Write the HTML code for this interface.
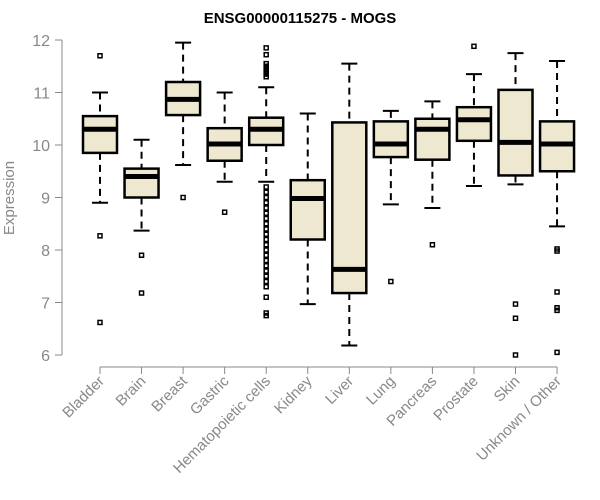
<!DOCTYPE html>
<html><head><meta charset="utf-8"><style>body{margin:0;background:#fff}svg{display:block}</style></head>
<body>
<svg id="chart" width="600" height="500" xmlns="http://www.w3.org/2000/svg" font-family="Liberation Sans, sans-serif"></svg>
<script>
const categories=["Bladder","Brain","Breast","Gastric","Hematopoietic cells","Kidney","Liver","Lung","Pancreas","Prostate","Skin","Unknown / Other"];
const whiskerLow=[8.9,8.37,9.62,9.3,9.3,6.97,6.18,8.87,8.8,9.22,9.25,8.45];
const q1=[9.85,9.0,10.57,9.7,10.0,8.2,7.18,9.77,9.72,10.08,9.42,9.5];
const median=[10.3,9.4,10.87,10.02,10.3,8.98,7.63,10.02,10.3,10.48,10.05,10.02];
const q3=[10.55,9.55,11.2,10.32,10.52,9.33,10.43,10.45,10.5,10.72,11.05,10.45];
const whiskerHigh=[11.0,10.1,11.95,11.0,11.1,10.6,11.55,10.65,10.83,11.35,11.75,11.6];
const outliers=[[11.7,8.27,6.62],[7.9,7.18],[9.0],[8.72],
[11.85,11.72,11.55,11.5,11.45,11.4,11.35,11.3,9.2,9.1,9.0,8.9,8.8,8.7,8.6,8.5,8.4,8.3,8.2,8.1,8.0,7.9,7.8,7.7,7.6,7.5,7.4,7.3,7.1,6.8,6.75],
[],[],[7.4],[8.1],[11.88],[6.97,6.7,6.0],[8.02,7.98,7.2,6.9,6.85,6.05]];
const yTicks=[6,7,8,9,10,11,12];
const NS="http://www.w3.org/2000/svg";
const svg=document.getElementById('chart');
const y=v=>355-(v-6)*52.5;
const x=i=>100+i*41.55;
function el(t,a,p){const e=document.createElementNS(NS,t);for(const k in a)e.setAttribute(k,a[k]);(p||svg).appendChild(e);return e;}
let t=el('text',{x:300,y:23,'text-anchor':'middle','font-weight':'bold','font-size':15,fill:'#000'});


t.textContent='ENSG00000115275 - MOGS';
let ax=el('g',{});


el('line',{x1:62,x2:62,y1:y(12),y2:y(6),stroke:'#888'},ax);
yTicks.forEach(v=>{el('line',{x1:55,x2:62,y1:y(v),y2:y(v),stroke:'#888'},ax);
let l=el('text',{x:50,y:y(v)+6,'text-anchor':'end','font-size':16,fill:'#888'},ax);


l.textContent=v;});
let yt=el('text',{x:0,y:0,transform:'translate(14,198) rotate(-90)','text-anchor':'middle','font-size':15,fill:'#888'});


yt.textContent='Expression';
let xa=el('g',{});


el('line',{x1:x(0),x2:x(categories.length-1),y1:367,y2:367,stroke:'#888'},xa);
categories.forEach((c,i)=>{
el('line',{x1:x(i),x2:x(i),y1:367,y2:374,stroke:'#888'},xa);
let l=el('text',{x:0,y:0,transform:`translate(${x(i)+5},382) rotate(-45)`,'text-anchor':'end','font-size':15,fill:'#888'},xa);


l.textContent=c;
let g=el('g',{});


const cx=x(i),w=17,cw=8;
el('line',{x1:cx,x2:cx,y1:y(whiskerHigh[i]),y2:y(q3[i]),stroke:'#000','stroke-width':2,'stroke-dasharray':'7,5'},g);
el('line',{x1:cx,x2:cx,y1:y(q1[i]),y2:y(whiskerLow[i]),stroke:'#000','stroke-width':2,'stroke-dasharray':'7,5'},g);
el('line',{x1:cx-cw,x2:cx+cw,y1:y(whiskerHigh[i]),y2:y(whiskerHigh[i]),stroke:'#000','stroke-width':2},g);
el('line',{x1:cx-cw,x2:cx+cw,y1:y(whiskerLow[i]),y2:y(whiskerLow[i]),stroke:'#000','stroke-width':2},g);
el('rect',{x:cx-w,y:y(q3[i]),width:2*w,height:y(q1[i])-y(q3[i]),fill:'#ede8cf',stroke:'#000','stroke-width':2.5},g);
el('line',{x1:cx-w,x2:cx+w,y1:y(median[i]),y2:y(median[i]),stroke:'#000','stroke-width':5},g);
outliers[i].forEach(v=>{el('rect',{x:cx-2,y:y(v)-2,width:4,height:4,fill:'none',stroke:'#000','stroke-width':1.5},g);});
});
</script>
</body></html>
